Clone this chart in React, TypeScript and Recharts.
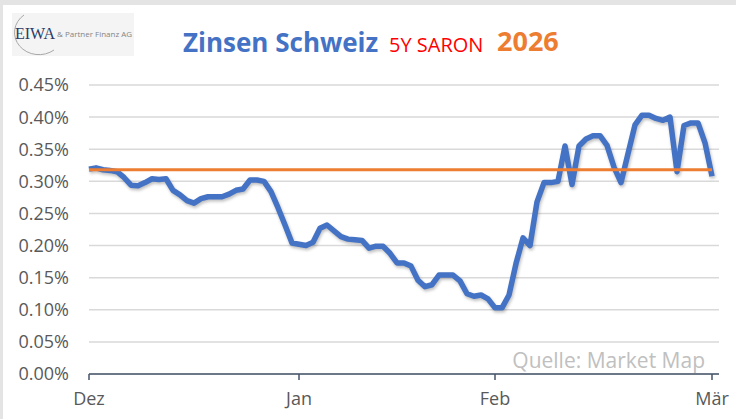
import { LineChart, Line, XAxis, YAxis, CartesianGrid } from 'recharts';

// month labels and the data index where each month starts
const monthLabels = ['Dez', 'Jan', 'Feb', 'Mär'];
const monthStart = [0, 30, 58, 89];

const yTicks = [0, 0.05, 0.1, 0.15, 0.2, 0.25, 0.3, 0.35, 0.4, 0.45];

// 5Y SARON swap rate in %, read off the chart
const saron5y = [
	0.319, 0.321, 0.318, 0.317, 0.315, 0.306, 0.294, 0.293, 0.298, 0.304,
	0.303, 0.304, 0.286, 0.279, 0.27, 0.266, 0.273, 0.276, 0.276, 0.276,
	0.28, 0.286, 0.288, 0.302, 0.302, 0.3, 0.284, 0.259, 0.232, 0.204,
	0.202, 0.2, 0.205, 0.227, 0.232, 0.223, 0.214, 0.21, 0.209, 0.208,
	0.196, 0.199, 0.199, 0.188, 0.173, 0.173, 0.168, 0.146, 0.136, 0.139,
	0.154, 0.154, 0.154, 0.145, 0.125, 0.121, 0.123, 0.117, 0.103, 0.103,
	0.123, 0.172, 0.212, 0.2, 0.268, 0.298, 0.298, 0.3, 0.355, 0.295,
	0.355, 0.366, 0.371, 0.371, 0.356, 0.322, 0.298, 0.343, 0.388, 0.403,
	0.403, 0.398, 0.395, 0.4, 0.315, 0.387, 0.391, 0.391, 0.36, 0.308,
];

// level at the start of the period (orange line)
const startLevel = 0.318;

const data = saron5y.map((rate, idx) => ({ idx, rate, level: startLevel }));

const font = "'Open Sans', sans-serif";

export default function App() {
	return (
		<div style={{ position: 'relative', width: 736, height: 419, background: '#fff' }}>
			<style>{'body{margin:0}'}</style>
			<LineChart
				width={736}
				height={419}
				data={data}
				margin={{ top: 85, right: 17, left: 0, bottom: 15 }}>
				<CartesianGrid vertical={false} stroke='#d9d9d9' strokeWidth={1.5} />
				<XAxis
					dataKey='idx'
					type='number'
					domain={[0, 90]}
					ticks={monthStart}
					interval={0}
					height={30}
					tickFormatter={(v) => monthLabels[monthStart.indexOf(v)]}
					axisLine={{ stroke: '#44546a', strokeWidth: 1.5 }}
					tickLine={{ stroke: '#44546a', strokeWidth: 1.5 }}
					tickSize={6}
					tickMargin={12}
					tick={{ fill: '#595959', fontSize: 18, fontFamily: font }}
				/>
				<YAxis
					domain={[0, 0.45]}
					ticks={yTicks}
					interval={0}
					width={89}
					axisLine={false}
					tickLine={false}
					tickSize={0}
					tickMargin={20}
					tickFormatter={(v) => `${v.toFixed(2)}%`}
					tick={{ fill: '#595959', fontSize: 18, fontFamily: font }}
				/>
				<Line
					type='linear'
					dataKey='rate'
					stroke='#4472c4'
					strokeWidth={5.5}
					strokeLinejoin='round'
					dot={false}
					isAnimationActive={false}
					style={{ filter: 'drop-shadow(1px 2px 1.5px rgba(0,0,0,0.25))' }}
				/>
				<Line
					type='linear'
					dataKey='level'
					stroke='#ed7d31'
					strokeWidth={3}
					dot={false}
					isAnimationActive={false}
				/>
			</LineChart>
			<svg
				width={736}
				height={419}
				style={{ position: 'absolute', left: 0, top: 0, pointerEvents: 'none' }}>
				<rect x={0} y={0} width={736} height={5} fill='#e4e4e4' />
				<rect x={0} y={0} width={3} height={419} fill='#e4e4e4' />
				{/* logo */}
				<rect x={12} y={13} width={122} height={43} fill='#f4f4f4' />
				<path
					d='M 24 15 A 21 19 0 1 0 54 50'
					fill='none'
					stroke='#a8a8a8'
					strokeWidth={1}
				/>
				<text x={15} y={39} fontFamily="'Liberation Serif', serif" fontSize={16} fill='#2b3a67'>
					EIWA
				</text>
				<text x={57} y={37} fontFamily={font} fontSize={8} fill='#858585'>
					& Partner Finanz AG
				</text>
				{/* title */}
				<text x={183} y={52} fontFamily={font} fontWeight={700} fontSize={26} fill='#4472c4'>
					Zinsen Schweiz
				</text>
				<text x={389} y={52} fontFamily={font} fontSize={20} fill='#ff0000'>
					5Y SARON
				</text>
				<text x={497} y={51} fontFamily={font} fontWeight={700} fontSize={27} fill='#ed7d31'>
					2026
				</text>
				<text x={705} y={368} textAnchor='end' fontFamily={font} fontSize={21} fill='#c0c0c0'>
					Quelle: Market Map
				</text>
			</svg>
		</div>
	);
}
